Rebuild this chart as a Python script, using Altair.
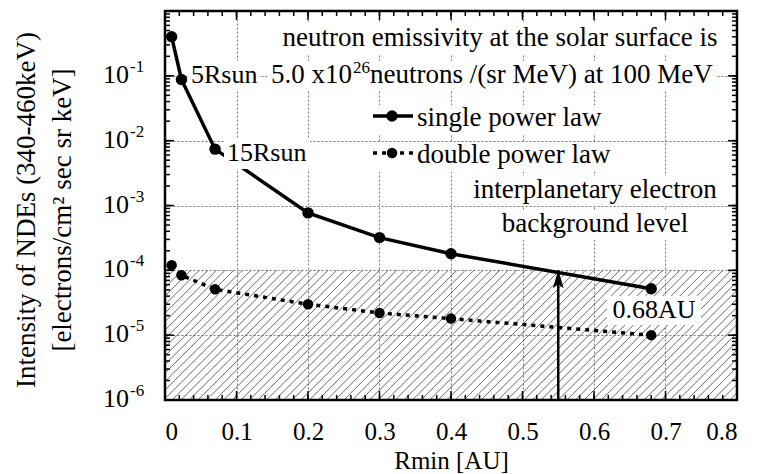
import altair as alt
import pandas as pd

# ---------------- data ----------------
rmin_au = [0.0093, 0.023, 0.070, 0.2, 0.3, 0.4, 0.68]
single_power_law = [0.40, 0.088, 0.0074, 7.7e-4, 3.2e-4, 1.8e-4, 5.2e-5]
double_power_law = [1.2e-4, 8.4e-5, 5.1e-5, 3.0e-5, 2.2e-5, 1.8e-5, 1.0e-5]

background_level = 1e-4          # interplanetary electron background
background_floor = 1e-6
crossing_rmin = 0.55             # where the arrow points

x_tick_values = [0, 0.1, 0.2, 0.3, 0.4, 0.5, 0.6, 0.7, 0.8]
x_minor_values = [round(i * 0.02, 2) for i in range(41)]
y_decades = [1e-6, 1e-5, 1e-4, 1e-3, 1e-2, 1e-1]
y_exponents = ["-6", "-5", "-4", "-3", "-2", "-1"]
y_grid_values = [1e-5, 1e-4, 1e-3, 1e-2, 1e-1]
y_minor_values = [k * 10.0 ** d for d in range(-6, 0) for k in range(1, 10)]

# ---------------- layout / style ----------------
W, H = 572, 389
FONT = "Liberation Serif"
xs = alt.Scale(domain=[0, 0.8], nice=False, zero=False)
ys = alt.Scale(type="log", domain=[1e-6, 1], nice=False)

X_AXIS = alt.Axis(
    values=x_tick_values, format=".1~f", grid=True, gridDash=[2, 2], gridColor="#777",
    gridWidth=1, ticks=False, domain=False, labelFont=FONT, labelFontSize=25,
    labelColor="black", labelPadding=19, title="Rmin [AU]", titleFont=FONT,
    titleFontSize=25, titleFontWeight="normal", titleColor="black",
    titleBaseline="alphabetic", titleY=68)
Y_AXIS = alt.Axis(
    values=y_grid_values, grid=True, gridDash=[2, 2], gridColor="#777", gridWidth=1,
    labels=False, ticks=False, domain=False, title=None)


def X(field):
    return alt.X(field, scale=xs, axis=X_AXIS)


def Y(field):
    return alt.Y(field, scale=ys, axis=Y_AXIS)


hatch_step = 0.012
hatch_run = 0.182
hatch_starts = [round(-hatch_run + i * hatch_step, 4)
                for i in range(int((0.8 + hatch_run) / hatch_step) + 2)]
hatch_df = pd.DataFrame({
    "x": hatch_starts,
    "x2": [s + hatch_run for s in hatch_starts],
    "y": [background_floor] * len(hatch_starts),
    "y2": [background_level] * len(hatch_starts),
})

df = pd.DataFrame({"r": rmin_au, "single": single_power_law, "double": double_power_law})

hatch = alt.Chart(hatch_df).mark_rule(clip=True, color="#444", strokeWidth=0.8).encode(
    x=X("x:Q"), x2="x2:Q", y=Y("y:Q"), y2="y2:Q",
)

bg_df = pd.DataFrame({"x": [crossing_rmin], "y": [background_floor], "y2": [background_level]})
arrow_shaft = alt.Chart(bg_df).mark_rule(color="black", strokeWidth=2.5).encode(
    x=X("x:Q"), y=Y("y:Q"), y2="y2:Q",
)
arrow_head = alt.Chart(bg_df).mark_point(
    shape="M0,-1L-0.6,1L0,0.55L0.6,1Z", filled=True, color="black", opacity=1,
    size=324, yOffset=9).encode(x=X("x:Q"), y=Y("y2:Q"))

single_line = alt.Chart(df).mark_line(color="black", strokeWidth=3.5).encode(
    x=X("r:Q"), y=Y("single:Q"))
double_line = alt.Chart(df).mark_line(color="black", strokeWidth=3.5, strokeDash=[4, 5]).encode(
    x=X("r:Q"), y=Y("double:Q"))
single_pts = alt.Chart(df).mark_circle(color="black", opacity=1, size=130).encode(
    x=X("r:Q"), y=Y("single:Q"))
double_pts = alt.Chart(df).mark_circle(color="black", opacity=1, size=110).encode(
    x=X("r:Q"), y=Y("double:Q"))

# white boxes behind text (plot-pixel coordinates)
boxes = [
    (114, 556, 12, 43),    # line 1
    (103, 552, 50, 80),    # line 2
    (24, 94, 50, 80),      # 5Rsun
    (59, 145, 128, 158),   # 15Rsun
    (204, 440, 94, 124),   # legend single
    (204, 442, 131, 161),  # legend double
    (306, 554, 165, 195),  # interplanetary electron
    (334, 526, 199, 229),  # background level
    (442, 536, 285, 314),  # 0.68AU
]
box_layers = [
    alt.Chart(pd.DataFrame({"a": [0]})).mark_rect(color="white").encode(
        x=alt.value(b[0]), x2=alt.value(b[1]), y=alt.value(b[2]), y2=alt.value(b[3]))
    for b in boxes
]


def txt(text, x, y, size=27, align="left", angle=0, baseline="alphabetic"):
    return alt.Chart(pd.DataFrame({"t": [text]})).mark_text(
        font=FONT, fontSize=size, align=align, baseline=baseline, angle=angle, color="black"
    ).encode(x=alt.value(x), y=alt.value(y), text="t:N")


texts = [
    txt("neutron emissivity at the solar surface is", 335, 35, align="center"),
    txt("5.0 x10", 187, 72, align="right"),
    txt("26", 188, 62, size=17),
    txt("neutrons /(sr MeV) at 100 MeV", 205, 72),
    txt("5Rsun", 26, 72, size=26),
    txt("15Rsun", 62, 150, size=26),
    txt("single power law", 252, 115),
    txt("double power law", 252, 152),
    txt("interplanetary electron", 430, 187, align="center"),
    txt("background level", 430, 221, align="center"),
    txt("0.68AU", 489, 307, size=26, align="center"),
    txt("Intensity of NDEs (340-460keV)", -138, 199, align="center", angle=270, baseline="middle"),
    txt("[electrons/cm² sec sr keV]", -102, 199, align="center", angle=270, baseline="middle"),
]

# legend glyphs
legend_single = alt.Chart(pd.DataFrame({"a": [0]})).mark_rule(color="black", strokeWidth=3.5).encode(
    x=alt.value(208), x2=alt.value(248), y=alt.value(105))
legend_double = alt.Chart(pd.DataFrame({"a": [0]})).mark_rule(
    color="black", strokeWidth=3.5, strokeDash=[4, 5]).encode(
    x=alt.value(208), x2=alt.value(248), y=alt.value(142))
legend_pt1 = alt.Chart(pd.DataFrame({"a": [0]})).mark_circle(color="black", opacity=1, size=130).encode(
    x=alt.value(227), y=alt.value(105))
legend_pt2 = alt.Chart(pd.DataFrame({"a": [0]})).mark_circle(color="black", opacity=1, size=110).encode(
    x=alt.value(227), y=alt.value(142))

# y tick labels 10^n
ylab_df = pd.DataFrame({"v": y_decades, "e": y_exponents})
ylab_base = alt.Chart(ylab_df).mark_text(font=FONT, fontSize=26, align="right",
                                         baseline="alphabetic", dy=7, color="black").encode(
    x=alt.value(-36), y=Y("v:Q"), text=alt.value("10"))
ylab_exp = alt.Chart(ylab_df).mark_text(font=FONT, fontSize=17, align="left",
                                        baseline="alphabetic", dy=-4, color="black").encode(
    x=alt.value(-35), y=Y("v:Q"), text="e:N")

# inward ticks on all four sides
xmin_df = pd.DataFrame({"v": x_minor_values})
xmaj_df = pd.DataFrame({"v": x_tick_values})
ymin_df = pd.DataFrame({"v": y_minor_values})
ymaj_df = pd.DataFrame({"v": y_decades + [1.0]})
tick_layers = []
for ypos in (0, H):
    tick_layers.append(alt.Chart(xmin_df).mark_tick(clip=True, orient="vertical", size=10, thickness=1.5,
                                                    color="black", opacity=1).encode(
        x=X("v:Q"), y=alt.value(ypos)))
    tick_layers.append(alt.Chart(xmaj_df).mark_tick(clip=True, orient="vertical", size=18, thickness=1.5,
                                                    color="black", opacity=1).encode(
        x=X("v:Q"), y=alt.value(ypos)))
for xpos in (0, W):
    tick_layers.append(alt.Chart(ymin_df).mark_tick(clip=True, orient="horizontal", size=10, thickness=1.5,
                                                    color="black", opacity=1).encode(
        y=Y("v:Q"), x=alt.value(xpos)))
    tick_layers.append(alt.Chart(ymaj_df).mark_tick(clip=True, orient="horizontal", size=18, thickness=1.5,
                                                    color="black", opacity=1).encode(
        y=Y("v:Q"), x=alt.value(xpos)))

frame = alt.Chart(pd.DataFrame({"a": [0]})).mark_rect(fill=None, fillOpacity=0, stroke="black",
                                                       strokeWidth=2.5).encode(
    x=alt.value(0), x2=alt.value(W), y=alt.value(0), y2=alt.value(H))

chart = alt.layer(
    hatch, arrow_shaft, arrow_head, single_line, double_line,
    *box_layers, single_pts, double_pts,
    legend_single, legend_double, legend_pt1, legend_pt2,
    *texts, ylab_base, ylab_exp, *tick_layers, frame,
).properties(
    width=W, height=H,
    autosize=alt.AutoSizeParams(type="none"),
    padding={"left": 157, "top": 3, "right": 12, "bottom": 74},
    background="white",
).configure_view(stroke=None)

chart.save("out.html", embed_options={"renderer": "svg", "actions": False})
